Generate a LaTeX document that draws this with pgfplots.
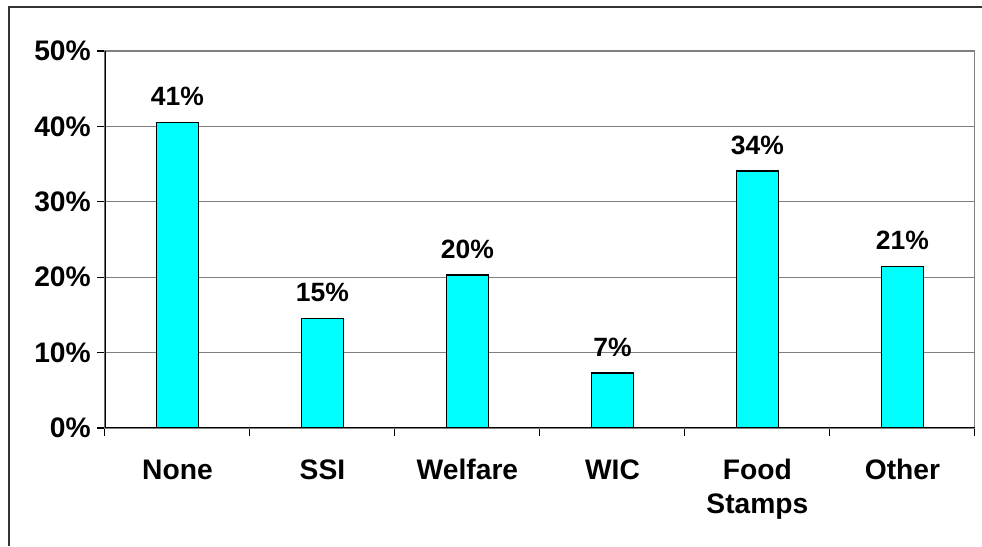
\documentclass[border=0pt]{standalone}
\usepackage{pgfplots}
\pgfplotsset{compat=1.18}
\usepackage{fontspec}
\setmainfont{Liberation Sans}
\definecolor{barcyan}{RGB}{0,255,255}
\definecolor{gridgray}{RGB}{128,128,128}
\begin{document}
\begin{tikzpicture}[x=0.5669pt,y=0.5669pt]
\useasboundingbox (0,0) rectangle (982,546);
% outer chart frame (top and left edges only, rest cropped)
\draw[line width=1.1pt, black!80] (9,0) -- (9,539) -- (982,539);
\begin{axis}[
  at={(59.5pt,66.9pt)}, anchor=south west,
  scale only axis, width=493.2pt, height=213.7pt,
  ybar, bar width=23.8pt,
  xmin=-0.5, xmax=5.5, ymin=0, ymax=50,
  xtick={-0.5,0.5,1.5,2.5,3.5,4.5,5.5}, xticklabels={,,,,,,,},
  extra x ticks={0,1,2,3,4,5},
  extra x tick labels={\strut None,\strut SSI,\strut Welfare,\strut WIC,\strut Food\\Stamps,\strut Other},
  extra x tick style={major tick length=0pt, grid=none},
  ytick={0,10,20,30,40,50},
  yticklabels={0\%,10\%,20\%,30\%,40\%,50\%},
  ymajorgrids, grid style={gridgray, line width=0.6pt},
  tick align=outside, tick pos=left, major tick length=4.5pt,
  tick style={black, line width=0.6pt},
  axis line style={gridgray, line width=0.6pt},
  ticklabel style={font=\fontsize{16}{19.3}\selectfont\bfseries},
  xticklabel style={align=center, anchor=north, yshift=-12pt},
  point meta=explicit symbolic,
  nodes near coords,
  every node near coord/.append style={font=\fontsize{15}{18}\selectfont\bfseries, anchor=base, inner sep=0pt, yshift=9.5pt},
]
\addplot[fill=barcyan, draw=black, line width=0.9pt] coordinates {
  (0,40.5) [41\%]
  (1,14.5) [15\%]
  (2,20.3) [20\%]
  (3,7.3)  [7\%]
  (4,34.1) [34\%]
  (5,21.4) [21\%]
};
\draw[black, line width=0.8pt] (rel axis cs:0,1) -- (rel axis cs:0,0) -- (rel axis cs:1,0);
\end{axis}
\end{tikzpicture}
\end{document}
